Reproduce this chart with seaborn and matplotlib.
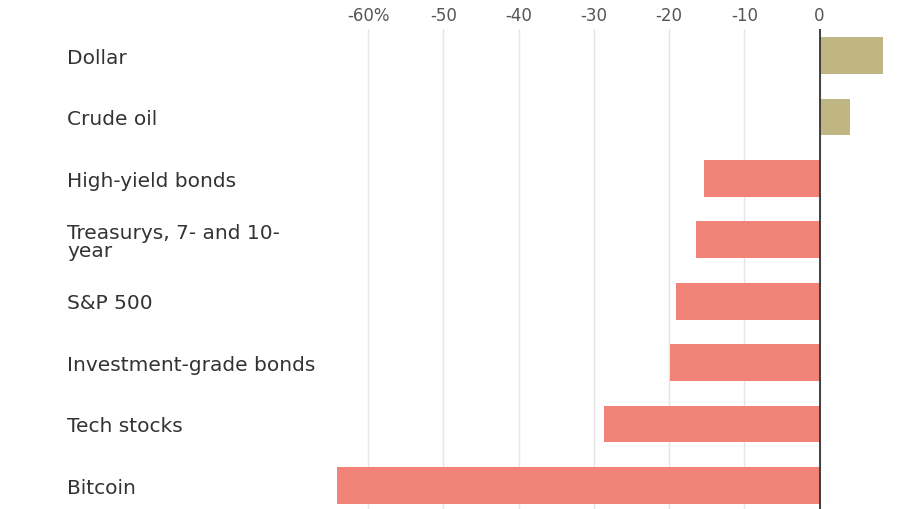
import matplotlib
matplotlib.use("Agg")
import matplotlib.pyplot as plt
import matplotlib.transforms as mtransforms
import seaborn as sns
import pandas as pd

categories = ["Dollar", "Crude oil", "High-yield bonds", "Treasurys, 7- and 10-\nyear",
              "S&P 500", "Investment-grade bonds", "Tech stocks", "Bitcoin"]
values = [8.4, 4.1, -15.4, -16.4, -19.1, -19.9, -28.7, -64.1]
tick_values = [-60, -50, -40, -30, -20, -10, 0]
tick_labels = ["-60%", "-50", "-40", "-30", "-20", "-10", "0"]

pos_color = "#BFB683"
neg_color = "#F28379"
colors = [pos_color if v > 0 else neg_color for v in values]

df = pd.DataFrame({"category": categories, "value": values})

sns.set_theme(style="white")
plt.rcParams["font.family"] = ["DejaVu Sans"]

fig = plt.figure(figsize=(9, 5.1), dpi=100)
ax = fig.add_axes([0.363, 0.0, 0.627, 0.941])

sns.barplot(data=df, x="value", y="category", hue="category", palette=colors,
            legend=False, orient="h", width=0.6, saturation=1, linewidth=0, ax=ax)

ax.set_xlim(-65.5, 9.5)
ax.set_ylim(7.386, -0.432)
ax.set_xticks(tick_values)
ax.set_xticklabels(tick_labels)
ax.xaxis.tick_top()
ax.tick_params(axis="x", length=0, pad=4, labelsize=12, labelcolor="#555555")
ax.set_yticks([])
ax.set_xlabel("")
ax.set_ylabel("")
for s in ax.spines.values():
    s.set_visible(False)

ax.grid(axis="x", color="#e4e4ea", linewidth=1)
ax.set_axisbelow(True)
ax.axvline(0, color="#333333", linewidth=1.3, zorder=5)

trans = mtransforms.blended_transform_factory(fig.transFigure, ax.transData)
for i, c in enumerate(categories):
    ax.text(67 / 900, i + 0.03, c, transform=trans, ha="left", va="center",
            fontsize=14.5, color="#333333", linespacing=0.95)

fig.savefig("out.png", dpi=100)
